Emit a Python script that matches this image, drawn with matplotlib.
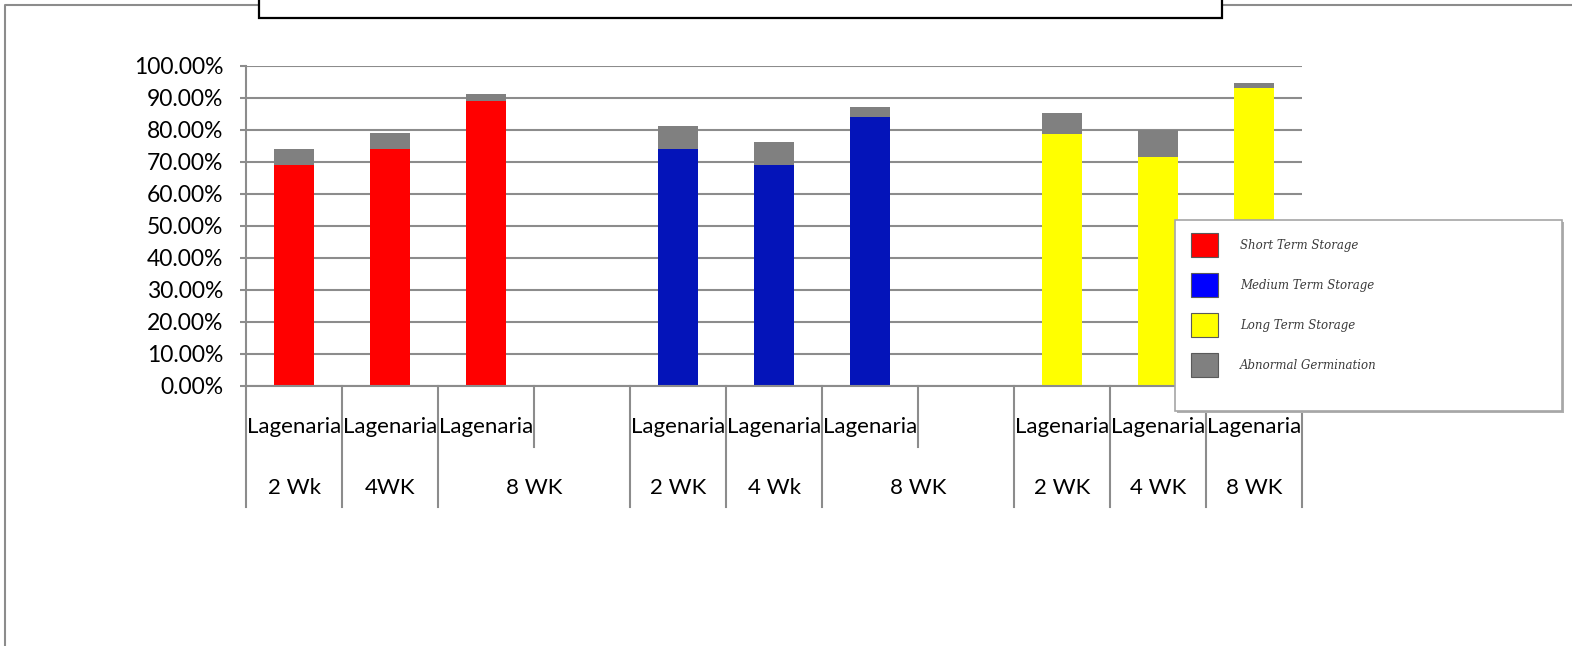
import matplotlib
matplotlib.use("Agg")
import matplotlib.pyplot as plt
import matplotlib.transforms as mtransforms
from matplotlib.patches import Patch, Rectangle
from matplotlib.lines import Line2D
from matplotlib.ticker import FuncFormatter

# ---------------- data ----------------
inner_labels = ["Lagenaria", "Lagenaria", "Lagenaria", "",
                "Lagenaria", "Lagenaria", "Lagenaria", "",
                "Lagenaria", "Lagenaria", "Lagenaria"]
outer_labels = ["2 Wk", "4WK", "8 WK", "2 WK", "4 Wk", "8 WK", "2 WK", "4 WK", "8 WK"]
outer_spans = [1, 1, 2, 1, 1, 2, 1, 1, 1]          # number of slots each outer label spans

short_term = [0.69, 0.74, 0.89]
medium_term = [0.74, 0.69, 0.84]
long_term = [0.785, 0.715, 0.93]
abnormal = [0.05, 0.05, 0.02, 0.07, 0.07, 0.03, 0.065, 0.085, 0.015]

series_names = ["Short Term Storage", "Medium Term Storage", "Long Term Storage",
                "Abnormal Germination"]
y_ticks = [0.0, 0.1, 0.2, 0.3, 0.4, 0.5, 0.6, 0.7, 0.8, 0.9, 1.0]

# ---------------- style ----------------
W, H = 1572, 646
DPI = 100
RED, BLUE, YELLOW, GRAY = "#FF0000", "#0414B9", "#FFFF00", "#808080"
LINE = "#8c8c8c"
FONT = "Lato"

def fx(px):
    return px / W

def fy(py):
    return 1 - py / H

fig = plt.figure(figsize=(W / DPI, H / DPI), dpi=DPI)
fig.patch.set_facecolor("white")

# outer chart frame (left + top)
fig.add_artist(Line2D([fx(4.5), fx(4.5), fx(W + 5)], [fy(H + 5), fy(5), fy(5)],
                      transform=fig.transFigure, color=LINE, lw=1.5))
# title box (empty, cut at top)
fig.add_artist(Rectangle((fx(259), fy(18)), fx(1222) - fx(259), 40 / H,
                         transform=fig.transFigure, facecolor="white",
                         edgecolor="black", lw=1.6, zorder=3))

ax_left, ax_right, ax_top, ax_bot = 246, 1302, 65.5, 385.5
ax = fig.add_axes([fx(ax_left), fy(ax_bot), (ax_right - ax_left) / W, (ax_bot - ax_top) / H])

n_slots = len(inner_labels)
width = 0.41
groups = [short_term, medium_term, long_term]
colors = [RED, BLUE, YELLOW]
k = 0
for g, (vals, col) in enumerate(zip(groups, colors)):
    xs = [4 * g + i for i in range(len(vals))]
    ab = abnormal[k:k + len(vals)]
    ax.bar(xs, vals, width=width, color=col, zorder=2)
    ax.bar(xs, ab, bottom=vals, width=width, color=GRAY, zorder=2)
    k += len(vals)

ax.set_xlim(-0.5, n_slots - 0.5)
ax.set_ylim(0, 1.0)
ax.set_yticks(y_ticks)
ax.yaxis.set_major_formatter(FuncFormatter(lambda v, p: f"{v * 100:.2f}%"))
ax.set_xticks([])
ax.grid(axis="y", color=LINE, lw=1.5)
ax.set_axisbelow(True)
for s in ["top", "right"]:
    ax.spines[s].set_visible(False)
for s in ["left", "bottom"]:
    ax.spines[s].set_color(LINE)
    ax.spines[s].set_linewidth(1.5)
ax.tick_params(axis="y", length=4.3, width=1.5, color=LINE, pad=12,
               labelsize=16.5, labelcolor="black")
for t in ax.get_yticklabels():
    t.set_fontfamily(FONT)

# multi-level category axis
tr = mtransforms.blended_transform_factory(ax.transData, fig.transFigure)
for i, lab in enumerate(inner_labels):
    if lab:
        ax.text(i, fy(433), lab, transform=tr, ha="center", va="baseline",
                fontsize=16, family=FONT, clip_on=False)
pos = 0
outer_bounds = [-0.5]
for lab, span in zip(outer_labels, outer_spans):
    center = pos + (span - 1) / 2
    ax.text(center, fy(494), lab, transform=tr, ha="center", va="baseline",
            fontsize=16, family=FONT, clip_on=False)
    pos += span
    outer_bounds.append(pos - 0.5)
for b in range(n_slots + 1):
    xb = b - 0.5
    y_end = 507 if xb in outer_bounds else 447
    ax.add_line(Line2D([xb, xb], [fy(386), fy(y_end)], transform=tr,
                       color=LINE, lw=1.5, clip_on=False))

# legend
lx0, ly0, lx1, ly1 = 1175, 220.5, 1562, 411
fig.add_artist(Rectangle((fx(lx0 + 2), fy(ly1 + 2)), fx(lx1) - fx(lx0), (ly1 - ly0) / H,
                         transform=fig.transFigure, facecolor="#b0b0b0",
                         edgecolor="none", zorder=4))
fig.add_artist(Rectangle((fx(lx0), fy(ly1)), fx(lx1) - fx(lx0), (ly1 - ly0) / H,
                         transform=fig.transFigure, facecolor="white",
                         edgecolor="#a6a6a6", lw=1.2, zorder=4))
handles = [Patch(facecolor=c, edgecolor="#5a5a5a", lw=0.8)
           for c in [RED, "#0000FF", YELLOW, GRAY]]
leg = fig.legend(handles, series_names, loc="upper left",
                 bbox_to_anchor=(fx(1191), fy(233)), frameon=False,
                 borderpad=0, borderaxespad=0, handlelength=2.29, handleheight=2.75,
                 handletextpad=1.85, labelspacing=1.36,
                 prop={"family": "DejaVu Serif", "style": "italic", "size": 8.5})
leg.set_zorder(5)
for t in leg.get_texts():
    t.set_color("#3a3a3a")

fig.savefig("out.png", dpi=DPI)
